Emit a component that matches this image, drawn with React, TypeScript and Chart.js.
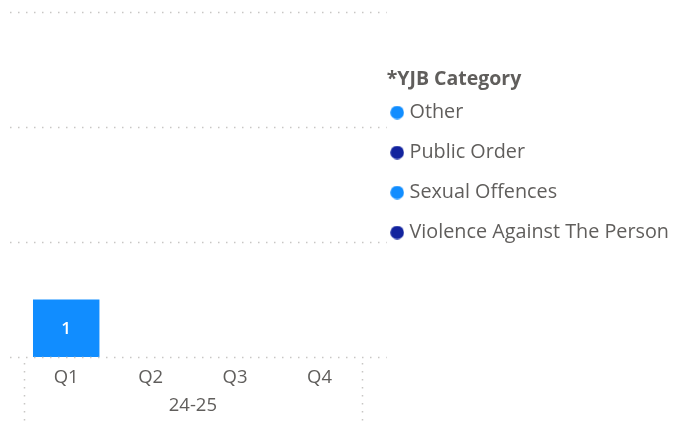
import React, { useEffect, useRef } from "react";
import { Chart, registerables } from "chart.js";

Chart.register(...registerables);

const quarters = ["Q1", "Q2", "Q3", "Q4"];
const yearLabel = "24-25";
const legendTitle = "*YJB Category";
const seriesNames = ["Other", "Public Order", "Sexual Offences", "Violence Against The Person"];
const seriesColors = ["#118DFF", "#12239E", "#118DFF", "#12239E"];
const otherValues: (number | null)[] = [1, null, null, null];
const publicOrderValues: (number | null)[] = [null, null, null, null];
const sexualOffencesValues: (number | null)[] = [null, null, null, null];
const violenceValues: (number | null)[] = [null, null, null, null];
const gridValues = [0, 2, 4, 6];
const yMin = 0;
const yMax = 6;
// x axis (quarter index) range; extra room on the right before the legend
const xMin = -0.5;
const xMax = 3.795;

const FONT = "'Segoe UI', 'Open Sans', sans-serif";
const TEXT = "#605E5C";
const GRID = "#C8C6C4";

function makeDot(color: string) {
  const c = document.createElement("canvas");
  c.width = 14;
  c.height = 14;
  const g = c.getContext("2d")!;
  g.fillStyle = color;
  g.beginPath();
  g.arc(7, 7, 6.8, 0, Math.PI * 2);
  g.fill();
  return c;
}

const dottedGrid = {
  id: "dottedGrid",
  afterDatasetsDraw(chart: any) {
    const { ctx, chartArea, scales } = chart;
    const y = scales.y;
    const x = scales.x;
    ctx.save();
    ctx.strokeStyle = GRID;
    ctx.lineWidth = 1.5;
    ctx.setLineDash([1.5, 6.5]);
    for (const v of gridValues) {
      const py = Math.round(y.getPixelForValue(v)) + 0.5;
      ctx.beginPath();
      ctx.moveTo(chartArea.left - 14, py);
      ctx.lineTo(chartArea.right, py);
      ctx.stroke();
    }
    // hierarchy separators around the year group
    const gl = x.getPixelForValue(-0.5);
    const gr = x.getPixelForValue(quarters.length - 0.5);
    for (const px of [gl, gr]) {
      ctx.beginPath();
      ctx.moveTo(Math.round(px) + 0.5, chartArea.bottom + 6);
      ctx.lineTo(Math.round(px) + 0.5, chart.height);
      ctx.stroke();
    }
    ctx.setLineDash([]);
    // year group label
    ctx.fillStyle = TEXT;
    ctx.font = `18.5px ${FONT}`;
    ctx.textAlign = "center";
    ctx.textBaseline = "middle";
    ctx.fillText(yearLabel, (gl + gr) / 2, chart.height - 16);
    ctx.restore();
  },
};

const dataLabels = {
  id: "dataLabels",
  afterDatasetsDraw(chart: any) {
    const { ctx } = chart;
    ctx.save();
    ctx.fillStyle = "#FFFFFF";
    ctx.font = `600 17px ${FONT}`;
    ctx.textAlign = "center";
    ctx.textBaseline = "middle";
    chart.data.datasets.forEach((ds: any, i: number) => {
      const meta = chart.getDatasetMeta(i);
      meta.data.forEach((el: any, j: number) => {
        const v = ds.data[j] && ds.data[j].y;
        if (v == null || v === 0) return;
        ctx.fillText(String(v), el.x, (el.y + el.base) / 2 + 1);
      });
    });
    ctx.restore();
  },
};

export default function App() {
  const ref = useRef<HTMLCanvasElement>(null);
  useEffect(() => {
    if (!ref.current) return;
    const seriesValues = [otherValues, publicOrderValues, sexualOffencesValues, violenceValues];
    const dots = seriesColors.map(makeDot);
    const chart = new Chart(ref.current, {
      type: "bar",
      data: {
        datasets: seriesNames.map((name, i) => ({
          label: name,
          data: seriesValues[i].map((v, k) => ({ x: k, y: v })),
          backgroundColor: seriesColors[i],
          borderWidth: 0,
          categoryPercentage: 1,
          barPercentage: 0.787,
        })),
      },
      options: {
        animation: false,
        responsive: true,
        maintainAspectRatio: false,
        layout: { padding: { top: 12, left: 24, right: 0, bottom: 0 } },
        scales: {
          x: {
            type: "linear",
            stacked: true,
            offset: false,
            min: xMin,
            max: xMax,
            grid: { display: false, drawTicks: false, offset: false },
            border: { display: false },
            ticks: {
              stepSize: 1,
              includeBounds: false,
              autoSkip: false,
              maxRotation: 0,
              color: TEXT,
              font: { family: FONT, size: 18.5 },
              padding: 10,
              callback: (v: any) => quarters[v] ?? "",
            },
            afterFit: (s: any) => {
              s.height = 65;
            },
          },
          y: {
            stacked: true,
            display: false,
            min: yMin,
            max: yMax,
          },
        },
        plugins: {
          tooltip: { enabled: false },
          legend: {
            position: "right",
            align: "start",
            title: {
              display: true,
              text: legendTitle,
              position: "start",
              color: TEXT,
              font: { family: FONT, size: 19.5, weight: "bold" },
              padding: { top: 58, bottom: 1.2 },
            },
            labels: {
              usePointStyle: true,
              pointStyleWidth: 5,
              boxHeight: 10,
              padding: 8,
              color: TEXT,
              font: { family: FONT, size: 19.8, lineHeight: "32px" },
              generateLabels: (chart: any) =>
                chart.data.datasets.map((ds: any, i: number) => ({
                  text: [ds.label],
                  fillStyle: ds.backgroundColor,
                  strokeStyle: ds.backgroundColor,
                  lineWidth: 0,
                  pointStyle: dots[i],
                  fontColor: TEXT,
                  hidden: false,
                  datasetIndex: i,
                })),
            },
          },
        },
      },
      plugins: [dottedGrid, dataLabels],
    } as any);
    return () => chart.destroy();
  }, []);
  return (
    <div style={{ position: "absolute", left: 0, top: 0, width: 679, height: 422 }}>
      <canvas ref={ref} />
    </div>
  );
}
